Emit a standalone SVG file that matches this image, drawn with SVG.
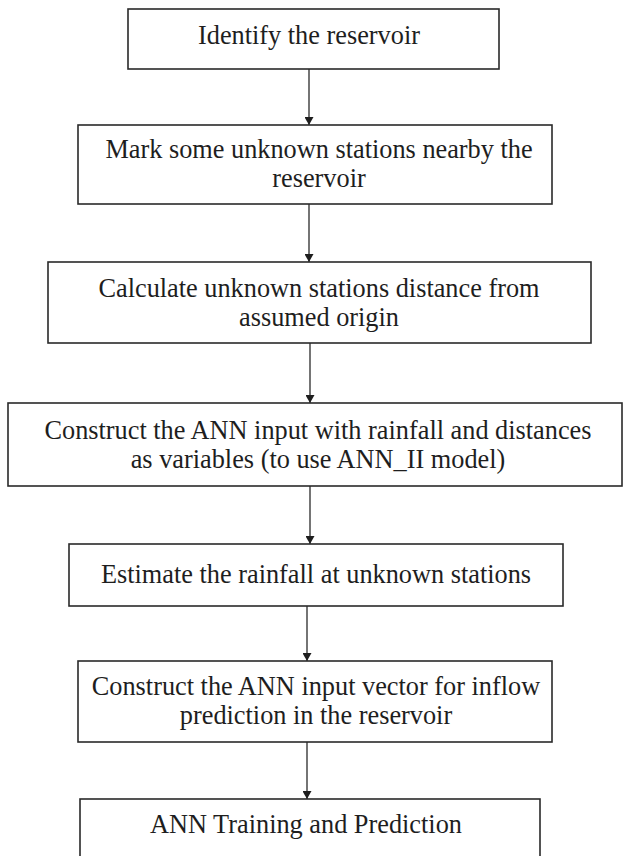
<svg xmlns="http://www.w3.org/2000/svg" width="623" height="856" viewBox="0 0 623 856">
<style>
.box{fill:#fff;stroke:#2a2a2a;stroke-width:1.6}
.t{font-family:"Liberation Serif","Times New Roman",serif;font-size:26.3px;fill:#1e1e1e;text-anchor:middle}
.c{stroke:#2a2a2a;stroke-width:1.3;fill:none}
</style>
<defs>
<marker id="ah" markerWidth="8" markerHeight="9" refX="8" refY="4.5" orient="auto" markerUnits="userSpaceOnUse">
<path d="M0,0 L8,4.5 L0,9 Z" fill="#1e1e1e"/>
</marker>
</defs>
<rect width="623" height="856" fill="#fff"/>
<g id="connectors">
<line class="c" x1="309" y1="69" x2="309" y2="125" marker-end="url(#ah)"/>
<line class="c" x1="309" y1="204" x2="309" y2="262" marker-end="url(#ah)"/>
<line class="c" x1="310" y1="343" x2="310" y2="403" marker-end="url(#ah)"/>
<line class="c" x1="310" y1="486" x2="310" y2="544" marker-end="url(#ah)"/>
<line class="c" x1="307" y1="606" x2="307" y2="661" marker-end="url(#ah)"/>
<line class="c" x1="307" y1="742" x2="307" y2="799" marker-end="url(#ah)"/>
</g>
<g id="n1">
<rect class="box" x="128" y="9" width="371" height="60"/>
<text class="t" x="309" y="44">Identify the reservoir</text>
</g>
<g id="n2">
<rect class="box" x="78" y="125" width="474" height="79"/>
<text class="t" x="319" y="158">Mark some unknown stations nearby the</text>
<text class="t" x="319" y="187">reservoir</text>
</g>
<g id="n3">
<rect class="box" x="48" y="262" width="543" height="81"/>
<text class="t" x="319" y="297">Calculate unknown stations distance from</text>
<text class="t" x="319" y="326">assumed origin</text>
</g>
<g id="n4">
<rect class="box" x="8" y="403" width="614" height="83"/>
<text class="t" x="318" y="439">Construct the ANN input with rainfall and distances</text>
<text class="t" x="318" y="468">as variables (to use ANN_II model)</text>
</g>
<g id="n5">
<rect class="box" x="69" y="544" width="494" height="62"/>
<text class="t" x="316" y="583">Estimate the rainfall at unknown stations</text>
</g>
<g id="n6">
<rect class="box" x="78" y="661" width="474" height="81"/>
<text class="t" x="316" y="695">Construct the ANN input vector for inflow</text>
<text class="t" x="316" y="724">prediction in the reservoir</text>
</g>
<g id="n7">
<rect class="box" x="80" y="799" width="460" height="75"/>
<text class="t" x="306" y="833">ANN Training and Prediction</text>
</g>
</svg>
